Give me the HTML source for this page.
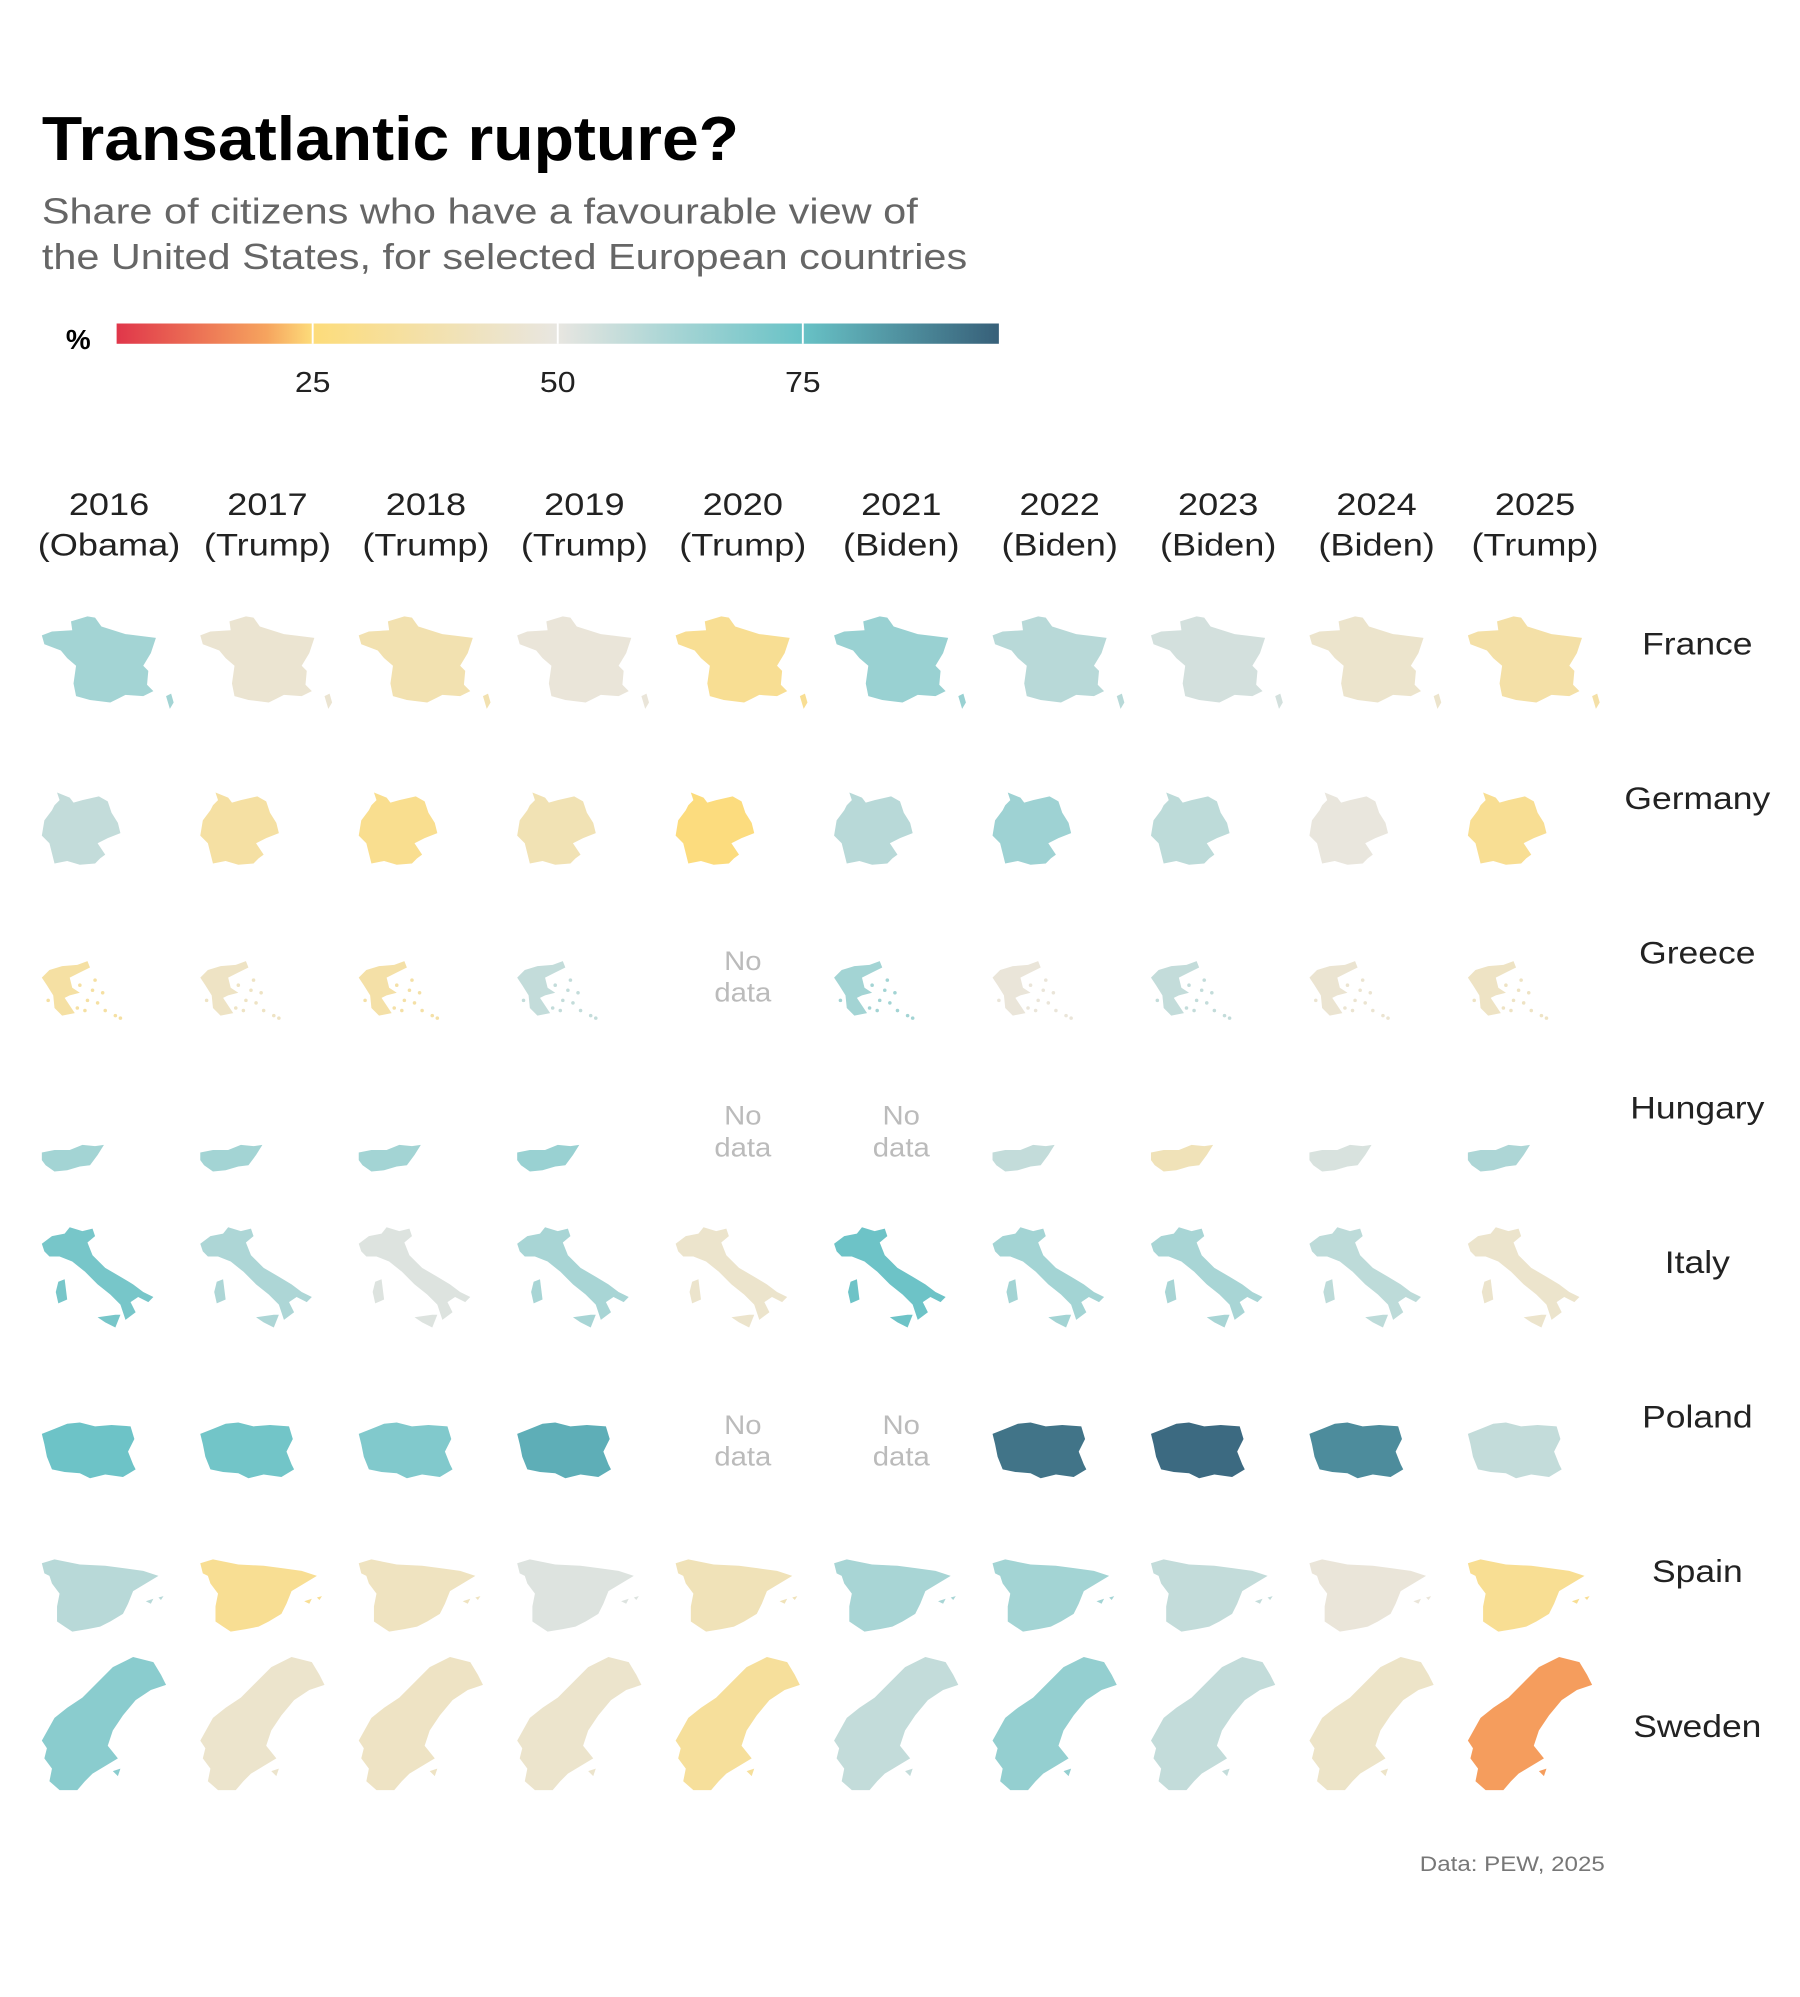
<!DOCTYPE html>
<html><head><meta charset="utf-8"><style>
html,body{margin:0;padding:0;background:#fff;}
svg{display:block;font-family:"Liberation Sans",Arial,sans-serif;}
</style></head><body>
<svg id="chart" width="1800" height="1997" viewBox="0 0 1420 1575" xmlns="http://www.w3.org/2000/svg">
<rect width="1420" height="1575" fill="#fff"/>
<text x="33" y="126" font-size="49" font-weight="bold" fill="#000" textLength="550" lengthAdjust="spacingAndGlyphs">Transatlantic rupture?</text>
<text x="33" y="176" font-size="28.5" fill="#666" textLength="691" lengthAdjust="spacingAndGlyphs">Share of citizens who have a favourable view of</text>
<text x="33" y="212" font-size="28.5" fill="#666" textLength="730" lengthAdjust="spacingAndGlyphs">the United States, for selected European countries</text>
<text x="52" y="275" font-size="22" font-weight="bold" fill="#000">%</text>
<defs>
<linearGradient id="cg" x1="0" x2="1" y1="0" y2="0">
<stop offset="0" stop-color="#e0364a"/>
<stop offset="0.17" stop-color="#f6a45e"/>
<stop offset="0.222" stop-color="#fddc7a"/>
<stop offset="0.5" stop-color="#e8e6e1"/>
<stop offset="0.63" stop-color="#a8d5d5"/>
<stop offset="0.778" stop-color="#68c2c6"/>
<stop offset="1" stop-color="#376079"/>
</linearGradient>
</defs>
<rect x="92" y="255" width="696" height="16" fill="url(#cg)"/>
<g id="legend"></g>
<g id="headers"></g>
<g id="maps"></g>
<g id="rowlabels"></g>
<text x="1266" y="1476" font-size="17" fill="#777" text-anchor="end" transform="translate(1266,0) scale(1.12,1) translate(-1266,0)">Data: PEW, 2025</text>
</svg>
<script>
const years = ["2016","2017","2018","2019","2020","2021","2022","2023","2024","2025"];
const presidents = ["Obama","Trump","Trump","Trump","Trump","Biden","Biden","Biden","Biden","Trump"];
const countries = ["France","Germany","Greece","Hungary","Italy","Poland","Spain","Sweden"];
const franceVals  = [63,46,38,48,31,65,59,54,45,36];
const germanyVals = [57,35,30,39,26,59,64,58,49,31];
const greeceVals  = [35,43,36,57,null,63,48,57,46,43];
const hungaryVals = [63,63,63,65,null,null,57,40,53,61];
const italyVals   = [72,61,52,62,45,74,63,62,58,45];
const polandVals  = [74,73,70,79,null,null,91,93,86,57];
const spainVals   = [59,31,42,52,40,62,63,57,48,31];
const swedenVals  = [68,45,43,45,33,57,66,57,44,19];
const legendTicks = [25,50,75];

const series = [franceVals,germanyVals,greeceVals,hungaryVals,italyVals,polandVals,spainVals,swedenVals];
const NS = "http://www.w3.org/2000/svg";
function mk(tag, attrs, parent){const e=document.createElementNS(NS,tag);for(const k in attrs)e.setAttribute(k,attrs[k]);parent.appendChild(e);return e;}
function stretch(e,cx,s){e.setAttribute("transform","translate("+cx+",0) scale("+s+",1) translate("+(-cx)+",0)");}

const vMin=5, vMax=95, barX0=92, barX1=788;
function legendX(v){return barX0+(v-vMin)/(vMax-vMin)*(barX1-barX0);}
function colX(i){return 86+i*125;}
function rowY(j){return 507+j*122;}
const stops=[[5,[224,54,74]],[20,[246,164,94]],[25,[253,220,122]],[50,[232,230,225]],[62,[168,213,213]],[75,[104,194,198]],[95,[55,96,121]]];
function color(v){
  if(v<=stops[0][0])return "rgb("+stops[0][1].join(",")+")";
  for(let i=1;i<stops.length;i++){if(v<=stops[i][0]){const a=stops[i-1],b=stops[i];const t=(v-a[0])/(b[0]-a[0]);return "rgb("+a[1].map((c,k)=>Math.round(c+(b[1][k]-c)*t)).join(",")+")";}}
  return "rgb("+stops[stops.length-1][1].join(",")+")";
}

const lg=document.getElementById("legend");
legendTicks.forEach(t=>{
  const x=legendX(t);
  const l=mk("line",{x1:x,x2:x,y1:255,y2:271,stroke:"#fff","stroke-width":1.5},lg);
  
  
  const tx=mk("text",{x:x,y:309,"font-size":23,"text-anchor":"middle",fill:"#222"},lg);
  tx.textContent=t;
  stretch(tx,x,1.1);
  
  
});

const hd=document.getElementById("headers");
years.forEach((y,i)=>{
  const t1=mk("text",{x:colX(i),y:406,"font-size":25,"text-anchor":"middle",fill:"#222"},hd);
  t1.textContent=y;
  stretch(t1,colX(i),1.14);
  
  
  const t2=mk("text",{x:colX(i),y:438,"font-size":25,"text-anchor":"middle",fill:"#222"},hd);
  t2.textContent="("+presidents[i]+")";
  stretch(t2,colX(i),1.14);
  
  
});

const shapes={
 France:[[[0,-6],[8,-9],[24,-10],[23,-17],[36,-21],[42,-20],[47,-13],[66,-7],[90,-4],[86,8],[80,18],[84,22],[83,33],[88,38],[80,42],[66,41],[60,44],[54,47],[38,45],[27,42],[25,32],[27,18],[20,12],[15,6],[2,1]],[[98,42],[102,40],[104,47],[101,52]]],
 Germany:[[[12,-4],[22,0],[25,4],[32,2],[45,-1],[52,3],[55,12],[60,20],[62,28],[52,32],[44,36],[50,45],[46,48],[42,52],[30,53],[20,50],[10,52],[8,44],[6,36],[0,30],[2,18],[8,10],[10,6],[14,2]]],
 Greece:[[[0,20],[6,14],[16,11],[28,10],[36,7],[38,12],[30,16],[22,20],[24,28],[30,32],[22,34],[18,36],[22,42],[26,48],[16,50],[10,44],[9,34],[4,26]],"dots",[[30,26],[42,22],[36,38],[44,40],[50,46],[58,50],[28,44],[5,38],[40,30],[48,32],[34,46],[62,52]]],
 Hungary:[[[0,36],[10,34],[22,34],[32,30],[42,31],[49,30],[44,38],[38,46],[30,47],[20,50],[10,51],[3,46],[0,42]]],
 Italy:[[[0,-14],[8,-20],[18,-22],[22,-27],[32,-24],[40,-26],[42,-20],[36,-15],[40,-5],[50,5],[62,12],[72,18],[80,24],[88,28],[84,32],[76,28],[70,32],[74,40],[66,46],[64,40],[62,34],[54,26],[44,18],[34,8],[24,0],[14,-4],[6,-4],[2,-8]],[[13,16],[18,14],[20,30],[13,33],[11,24]],[[44,44],[58,42],[62,42],[58,52],[50,48]]],
 Poland:[[[0,14],[10,10],[20,6],[30,5],[42,8],[55,7],[70,8],[73,18],[68,28],[72,38],[74,42],[64,48],[50,46],[38,49],[30,45],[18,44],[8,42],[4,32],[2,22]]],
 Spain:[[[0,-6],[10,-9],[30,-5],[50,-4],[65,-2],[80,0],[92,4],[82,10],[72,16],[68,26],[64,34],[54,40],[46,44],[36,46],[24,48],[18,44],[12,40],[12,28],[14,18],[8,10],[6,4],[2,2]],[[82,24],[88,22],[86,26]],[[92,21],[96,20],[94,23]]],
 Sweden:[[[0,12],[10,-6],[20,-14],[32,-22],[44,-34],[56,-46],[72,-54],[88,-50],[94,-40],[98,-32],[86,-28],[74,-20],[64,-8],[56,4],[52,16],[60,26],[50,32],[40,38],[34,44],[28,51],[14,51],[6,44],[8,34],[2,26],[4,18]],[[56,36],[62,34],[60,40]]]
};

const mp=document.getElementById("maps");
countries.forEach((c,j)=>{
  const vals=series[j];
  vals.forEach((v,i)=>{
    const cx=colX(i), cy=rowY(j);
    if(v===null){
      const t1=mk("text",{x:cx,y:cy+14,"font-size":21,"text-anchor":"middle",fill:"#bbb"},mp);
      t1.textContent="No";
      stretch(t1,cx,1.1);
      
      
      const t2=mk("text",{x:cx,y:cy+39,"font-size":21,"text-anchor":"middle",fill:"#bbb"},mp);
      t2.textContent="data";
      stretch(t2,cx,1.1);
      
      
      return;
    }
    const g=mk("g",{transform:"translate("+(cx-53)+","+cy+")",fill:color(v)},mp);
    
    
    const sh=shapes[c];
    for(let k=0;k<sh.length;k++){
      if(sh[k]==="dots"){sh[k+1].forEach(p=>mk("circle",{cx:p[0],cy:p[1],r:1.4},g));break;}
      mk("polygon",{points:sh[k].map(p=>p.join(",")).join(" ")},g);
    }
  });
});

const rl=document.getElementById("rowlabels");
countries.forEach((c,j)=>{
  const t=mk("text",{x:1339,y:rowY(j)+9,"font-size":25,"text-anchor":"middle",fill:"#222"},rl);
  t.textContent=c;
  stretch(t,1339,1.12);
  
  
});
</script>
</body></html>
